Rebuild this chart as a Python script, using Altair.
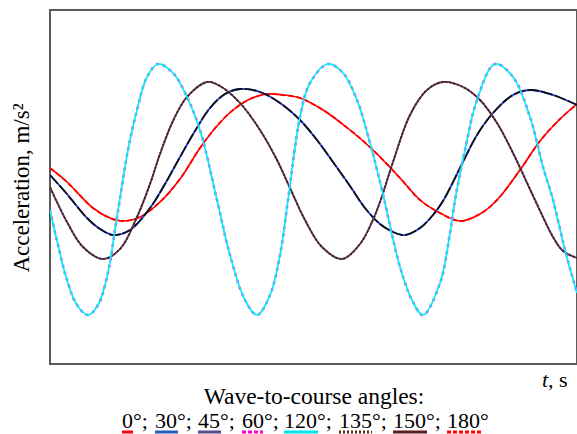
import altair as alt
import pandas as pd

# ---- data (t in s, acceleration in m/s^2) ----
# 60° / 120° (cyan, magenta dashed underneath)
t_60 = [0.00, 0.16, 0.34, 0.54, 0.76, 0.96, 1.14, 1.34, 1.56, 1.74, 1.94, 2.16, 2.46, 2.74, 3.00,
        3.34, 3.60, 3.90, 4.14, 4.40, 4.60, 4.76, 5.00, 5.20, 5.56, 5.86, 6.14, 6.40, 6.64, 7.00,
        7.24, 7.46, 7.80, 8.00, 8.10, 8.30, 8.54, 8.90, 9.26, 9.60, 9.86, 10.06, 10.30, 10.54]
a_60 = [-0.46, -1.16, -1.86, -2.36, -2.56, -2.36, -1.80, -0.60, 0.74, 1.54, 2.20, 2.46, 2.28, 1.80, 1.14,
        -0.26, -1.36, -2.26, -2.56, -2.16, -1.36, -0.26, 1.40, 2.08, 2.46, 2.28, 1.74, 0.88, -0.06, -1.60,
        -2.26, -2.56, -1.92, -0.92, -0.26, 0.74, 1.74, 2.46, 2.20, 1.40, 0.40, -0.26, -1.26, -2.12]

# 0° / 180° (red)
t_0 = [0.00, 0.34, 0.86, 1.20, 1.46, 1.80, 2.20, 2.60, 3.00, 3.34, 3.66, 4.00, 4.34, 4.66, 5.00,
       5.46, 6.00, 6.46, 7.00, 7.40, 7.80, 8.20, 8.60, 8.94, 9.40, 9.80, 10.20, 10.54]
a_0 = [0.38, 0.10, -0.42, -0.62, -0.68, -0.60, -0.30, 0.16, 0.78, 1.22, 1.54, 1.76, 1.86, 1.84, 1.78,
       1.54, 1.14, 0.74, 0.18, -0.26, -0.52, -0.68, -0.54, -0.26, 0.34, 0.92, 1.36, 1.66]

# 30° / 150° (blue under near-black)
t_30 = [0.00, 0.34, 0.74, 1.00, 1.26, 1.60, 2.00, 2.30, 2.60, 2.90, 3.20, 3.50, 3.80, 4.20, 4.60,
        5.00, 5.34, 5.66, 6.00, 6.30, 6.60, 6.86, 7.10, 7.40, 7.66, 7.86, 8.20, 8.54, 8.86, 9.26,
        9.60, 10.06, 10.54]
a_30 = [0.24, -0.14, -0.62, -0.84, -0.96, -0.86, -0.42, 0.06, 0.60, 1.12, 1.58, 1.86, 1.96, 1.90, 1.68,
        1.34, 0.94, 0.50, 0.02, -0.42, -0.74, -0.90, -0.96, -0.82, -0.56, -0.28, 0.38, 1.04, 1.48, 1.84,
        1.94, 1.84, 1.64]

# 45° / 135° (purple under brown dotted)
t_45 = [0.00, 0.34, 0.66, 1.06, 1.40, 1.74, 2.00, 2.20, 2.46, 2.74, 3.14, 3.40, 3.80, 4.20, 4.54,
        4.80, 5.10, 5.44, 5.84, 6.20, 6.44, 6.60, 6.86, 7.20, 7.54, 7.86, 8.26, 8.60, 8.94, 9.26,
        9.70, 10.06, 10.26, 10.54]
a_45 = [0.00, -0.70, -1.20, -1.44, -1.24, -0.60, 0.06, 0.66, 1.32, 1.80, 2.10, 2.02, 1.68, 1.14, 0.54,
        -0.02, -0.66, -1.20, -1.44, -1.14, -0.70, -0.30, 0.50, 1.44, 1.94, 2.10, 2.00, 1.74, 1.28, 0.68,
        -0.26, -1.00, -1.28, -1.42]

legend_labels = ["0°;", "30°;", "45°;", "60°;", "120°;", "135°;", "150°;", "180°"]
legend_colors = ["#ff0000", "#1f5fb4", "#5b4a8b", "#ff00cc", "#00e5ee", "#5e2612", "#5a1e1e", "#ff0000"]
legend_dash = [None, None, None, [4, 2], None, [2, 2], None, [4, 2]]

W, H = 527, 354
X_DOM = [0, 10.54]
Y_DOM = [-3.54, 3.54]
FONT = "'Liberation Serif', 'Times New Roman', Times, serif"


def line_layer(t, a, color, width, dash=None):
    df = pd.DataFrame({"t": t, "a": a})
    kw = dict(color=color, strokeWidth=width, interpolate="catmull-rom", clip=True)
    if dash:
        kw["strokeDash"] = dash
    return alt.Chart(df).mark_line(**kw).encode(
        x=alt.X("t:Q", scale=alt.Scale(domain=X_DOM, nice=False, zero=False), axis=None),
        y=alt.Y("a:Q", scale=alt.Scale(domain=Y_DOM, nice=False, zero=False), axis=None),
    )


one = pd.DataFrame({"k": [0]})


def txt(s, x, y, align="left", angle=None, italic=False, size=23):
    kw = dict(align=align, baseline="alphabetic", font=FONT, fontSize=size, color="black")
    if angle is not None:
        kw["angle"] = angle
    if italic:
        kw["fontStyle"] = "italic"
    return alt.Chart(one).mark_text(**kw).encode(
        x=alt.value(x), y=alt.value(y), text=alt.value(s))


def uline(x1, x2, y, color, dash=None):
    kw = dict(color=color, strokeWidth=3)
    if dash:
        kw["strokeDash"] = dash
    return alt.Chart(one).mark_rule(**kw).encode(
        x=alt.value(x1), x2=alt.value(x2), y=alt.value(y))


layers = [
    line_layer(t_0, a_0, "#ff0000", 1.8, [5, 3]),       # 180°
    line_layer(t_0, a_0, "#ff0000", 1.6),               # 0°
    line_layer(t_30, a_30, "#1f3fff", 1.8),             # 30°
    line_layer(t_30, a_30, "#111111", 1.8, [12, 2]),    # 150°
    line_layer(t_45, a_45, "#6a4a9a", 1.8),             # 45°
    line_layer(t_45, a_45, "#4a2418", 1.8, [3, 1]),     # 135°
    line_layer(t_60, a_60, "#ff33ff", 2.6, [3, 4]),     # 60°
    line_layer(t_60, a_60, "#00f0f0", 1.7),             # 120°
]

# axis titles
layers.append(txt("Acceleration, m/s²", -21, 178, align="center", angle=270))
layers.append(txt("t", 492, 377, italic=True, size=22))
layers.append(txt(", s", 498, 377, size=22))

# legend
layers.append(txt("Wave-to-course angles:", 264, 394, align="center", size=23.5))
label_x = [72, 105, 148, 192, 234, 289, 343, 397]
ul_x = [(72, 83), (105, 128), (148, 171), (192, 213), (234, 268), (289, 322), (343, 377), (397, 432)]
for s, x in zip(legend_labels, label_x):
    layers.append(txt(s, x, 418, size=22))
for (x1, x2), c, d in zip(ul_x, legend_colors, legend_dash):
    layers.append(uline(x1, x2, 422, c, d))

chart = alt.layer(*layers).properties(
    width=W, height=H,
    autosize=alt.AutoSizeParams(type="none"),
    padding={"left": 50, "top": 10, "right": 0, "bottom": 70},
    background="white",
).configure_view(stroke="#5a5a5a", strokeWidth=2)

chart.save("out.html", embed_options={"renderer": "svg", "actions": False})
